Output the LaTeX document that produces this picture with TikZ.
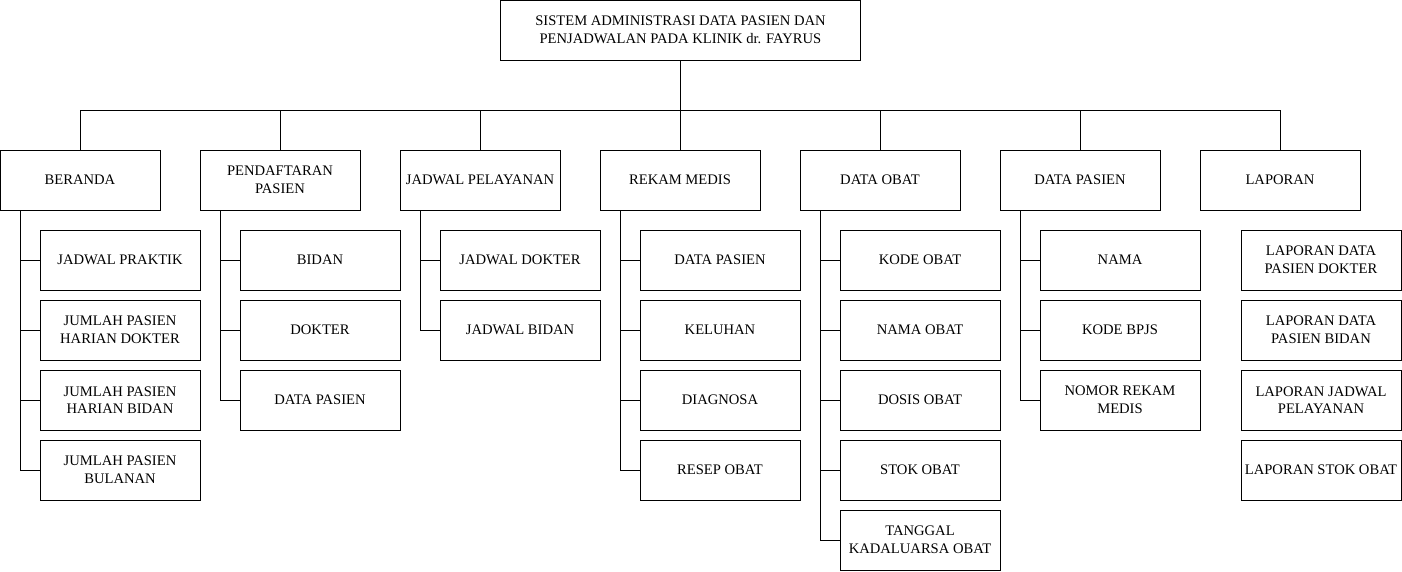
\documentclass[tikz,border=0pt]{standalone}
\usepackage{fontspec}
\setmainfont{Liberation Serif}
\begin{document}
\begin{tikzpicture}[x=1pt,y=-1pt,
        box/.style={draw, line width=1pt, rectangle, minimum width=160pt,
                minimum height=60pt, inner sep=0pt, outer sep=0pt, align=center,
                font=\fontsize{14.6}{17.6}\selectfont},
        link/.style={line width=1pt}]

        \useasboundingbox (0,0) rectangle (1402,571);

        % ===============================
        % Judul sistem
        % ===============================
        \node[box, minimum width=360pt] (sistem) at (680.5,30)
        {SISTEM ADMINISTRASI DATA PASIEN DAN\\PENJADWALAN PADA KLINIK dr. FAYRUS};

        % ===============================
        % Menu utama
        % ===============================
        \foreach \n/\i/\txt in {
                beranda/0/BERANDA,
                daftar/1/{PENDAFTARAN\\PASIEN},
                jadwal/2/JADWAL PELAYANAN,
                rekam/3/REKAM MEDIS,
                obat/4/DATA OBAT,
                pasien/5/DATA PASIEN,
                laporan/6/LAPORAN}{
                \node[box] (\n) at ({80+200*\i},180) {\txt};
                \draw[link] (sistem.south) -- ++(0,50) -| (\n.north);
            }

        % ===============================
        % Sub menu
        % ===============================

        % Beranda
        \foreach \k/\txt in {
                1/JADWAL PRAKTIK,
                2/{JUMLAH PASIEN\\HARIAN DOKTER},
                3/{JUMLAH PASIEN\\HARIAN BIDAN},
                4/{JUMLAH PASIEN\\BULANAN}}{
                \node[box] (beranda\k) at (120,{190+70*\k}) {\txt};
                \draw[link] ([xshift=20pt]beranda.south west) |- (beranda\k.west);
            }

        % Pendaftaran pasien
        \foreach \k/\txt in {1/BIDAN, 2/DOKTER, 3/DATA PASIEN}{
                \node[box] (daftar\k) at (320,{190+70*\k}) {\txt};
                \draw[link] ([xshift=20pt]daftar.south west) |- (daftar\k.west);
            }

        % Jadwal pelayanan
        \foreach \k/\txt in {1/JADWAL DOKTER, 2/JADWAL BIDAN}{
                \node[box] (jadwal\k) at (520,{190+70*\k}) {\txt};
                \draw[link] ([xshift=20pt]jadwal.south west) |- (jadwal\k.west);
            }

        % Rekam medis
        \foreach \k/\txt in {1/DATA PASIEN, 2/KELUHAN, 3/DIAGNOSA, 4/RESEP OBAT}{
                \node[box] (rekam\k) at (720,{190+70*\k}) {\txt};
                \draw[link] ([xshift=20pt]rekam.south west) |- (rekam\k.west);
            }

        % Data obat
        \foreach \k/\txt in {
                1/KODE OBAT,
                2/NAMA OBAT,
                3/DOSIS OBAT,
                4/STOK OBAT,
                5/{TANGGAL\\KADALUARSA OBAT}}{
                \node[box] (obat\k) at (920,{190+70*\k}) {\txt};
                \draw[link] ([xshift=20pt]obat.south west) |- (obat\k.west);
            }

        % Data pasien
        \foreach \k/\txt in {1/NAMA, 2/KODE BPJS, 3/{NOMOR REKAM\\MEDIS}}{
                \node[box] (pasien\k) at (1120,{190+70*\k}) {\txt};
                \draw[link] ([xshift=20pt]pasien.south west) |- (pasien\k.west);
            }

        % Laporan (tanpa garis penghubung)
        \foreach \k/\txt in {
                1/{LAPORAN DATA\\PASIEN DOKTER},
                2/{LAPORAN DATA\\PASIEN BIDAN},
                3/{LAPORAN JADWAL\\PELAYANAN},
                4/LAPORAN STOK OBAT}{
                \node[box] (laporan\k) at (1321,{190+70*\k}) {\txt};
            }

    \end{tikzpicture}
\end{document}
